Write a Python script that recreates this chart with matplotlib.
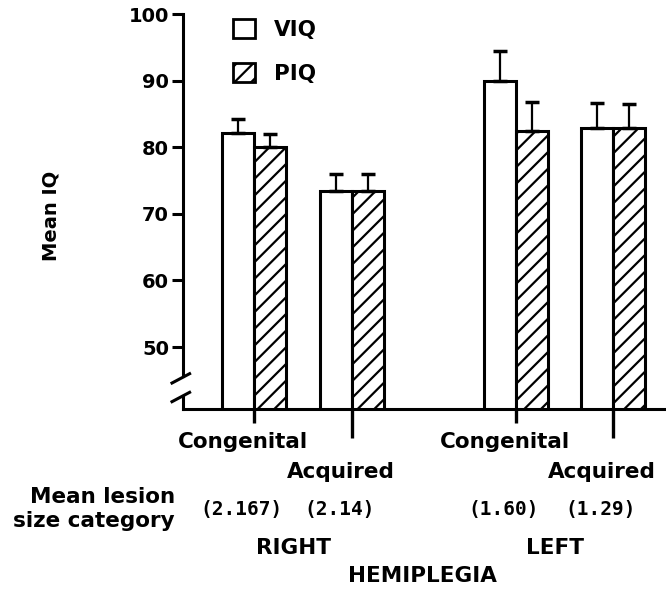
import numpy as np
import matplotlib
matplotlib.use('Agg')
import matplotlib.pyplot as plt
from matplotlib.patches import Patch
import matplotlib.transforms as mtransforms

groups = ['Congenital', 'Acquired', 'Congenital', 'Acquired']
lesion = ['(2.167)', '(2.14)', '(1.60)', '(1.29)']
sides = ['RIGHT', 'LEFT']
viq = [82.2, 73.4, 90.0, 82.9]
viq_err = [2.1, 2.6, 4.5, 3.8]
piq = [80.1, 73.4, 82.5, 82.9]
piq_err = [1.9, 2.6, 4.3, 3.6]
yticks = [50, 60, 70, 80, 90, 100]

plt.rcParams['font.family'] = 'DejaVu Sans'
plt.rcParams['font.weight'] = 'bold'
plt.rcParams['hatch.linewidth'] = 1.6

fs = 15.5

fig = plt.figure(figsize=(6.66, 5.9), dpi=100)
ax = fig.add_axes([183 / 666, 1 - 409 / 590, 1 - 183 / 666, (409 - 14) / 590])

pos = np.array([0, 1, 2.673, 3.663])
w = 0.33
ax.bar(pos - w / 2, viq, w, color='white', edgecolor='black', linewidth=2.2, zorder=2)
ax.bar(pos + w / 2, piq, w, color='white', edgecolor='black', hatch='//', linewidth=2.2, zorder=2)
ax.errorbar(pos - w / 2, viq, yerr=[np.zeros(4), viq_err], fmt='none', ecolor='black',
            elinewidth=1.6, capsize=5, capthick=2.5, zorder=3)
ax.errorbar(pos + w / 2, piq, yerr=[np.zeros(4), piq_err], fmt='none', ecolor='black',
            elinewidth=1.6, capsize=5, capthick=2.5, zorder=3)

ax.set_xlim(-0.724, 4.204)
ax.set_ylim(40.7, 100)
ax.set_yticks(yticks)
ax.set_yticklabels([str(t) for t in yticks], fontsize=14, fontweight='heavy')
ax.tick_params(axis='y', length=8, width=2.2, pad=2)

# x ticks: long at acquired, short at congenital
ax.set_xticks(pos[[1, 3]])
ax.set_xticks(pos[[0, 2]], minor=True)
ax.set_xticklabels([])
ax.tick_params(axis='x', which='major', length=21, width=2.4)
ax.tick_params(axis='x', which='minor', length=10, width=2.4)

for s in ['top', 'right']:
    ax.spines[s].set_visible(False)
ax.spines['bottom'].set_linewidth(2.2)
ax.spines['left'].set_linewidth(2.2)
ax.spines['left'].set_bounds(45.6, 100)

# axis break
tr = mtransforms.blended_transform_factory(ax.transAxes, ax.transData)
dx = 11 / (666 - 183)
ax.plot([0, 0], [40.7, 42.6], color='black', lw=2.2, transform=tr, clip_on=False)
ax.plot([-dx, dx * 0.6], [41.8, 43.2], color='black', lw=2.2, transform=tr, clip_on=False)
ax.plot([-dx, dx * 0.6], [44.6, 46.0], color='black', lw=2.2, transform=tr, clip_on=False)

ax.set_ylabel('Mean IQ', fontsize=14, fontweight='bold')
ax.yaxis.set_label_coords(-(183 - 60) / (666 - 183), 0.5 - (215 - 211) / 395)

for i, g in enumerate(groups):
    dy = -33 if g == 'Congenital' else -63
    ax.annotate(g, xy=(pos[i], 0), xycoords=('data', 'axes fraction'),
                xytext=(-8, dy * 0.72), textcoords='offset points',
                ha='center', va='center', fontsize=fs)
    ax.annotate(lesion[i], xy=(pos[i], 0), xycoords=('data', 'axes fraction'),
                xytext=(-9, -101 * 0.72), textcoords='offset points',
                ha='center', va='center', fontsize=14, family='DejaVu Sans Mono')

for j, s in enumerate(sides):
    mid = pos[2 * j:2 * j + 2].mean()
    ax.annotate(s, xy=(mid, 0), xycoords=('data', 'axes fraction'),
                xytext=(-7, -139 * 0.72), textcoords='offset points',
                ha='center', va='center', fontsize=fs)

fig.text(422 / 666, 1 - 576 / 590, 'HEMIPLEGIA', ha='center', va='center', fontsize=fs)
fig.text(175 / 666, 1 - 509 / 590, 'Mean lesion\nsize category', ha='right', va='center',
         fontsize=fs, multialignment='right', linespacing=1.3)

handles = [Patch(facecolor='white', edgecolor='black', linewidth=2, label='VIQ'),
           Patch(facecolor='white', edgecolor='black', linewidth=2, hatch='//', label='PIQ')]
fig.legend(handles=handles, loc='upper left', bbox_to_anchor=(233 / 666, 1 - 19 / 590),
           frameon=False, fontsize=fs, handlelength=1.0, handleheight=1.0,
           handletextpad=0.9, labelspacing=1.05, borderpad=0, borderaxespad=0)

fig.savefig('out.png', dpi=100)
